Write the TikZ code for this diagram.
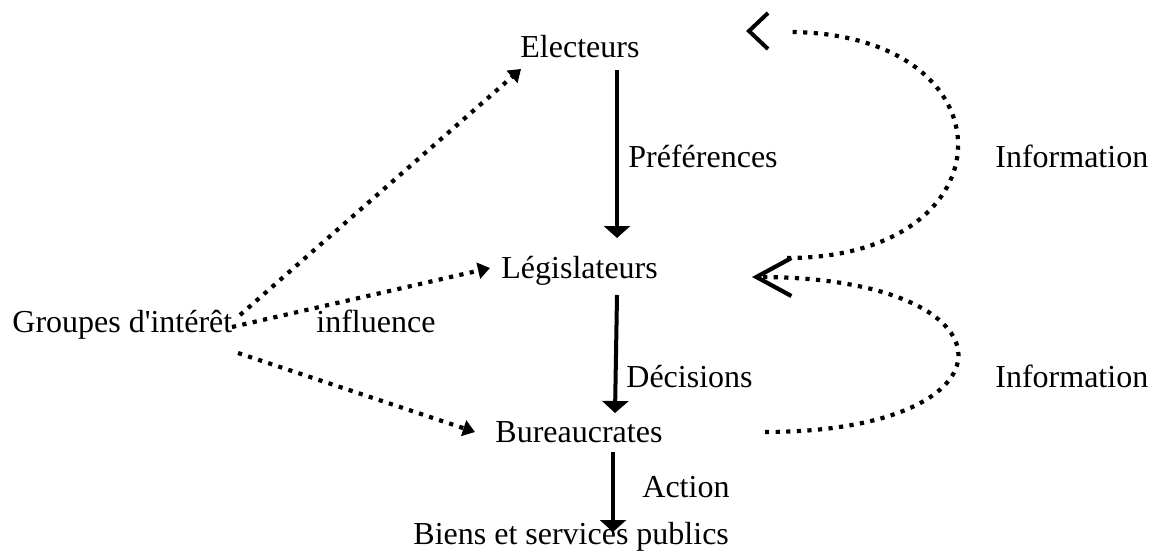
\documentclass[tikz,border=0pt]{standalone}
\usepackage{fontspec}
\setmainfont{Liberation Serif}[Ligatures=TeXOff]
\usetikzlibrary{arrows.meta,calc}
\begin{document}
\begin{tikzpicture}[x=0.5pt,y=-0.5pt,
  lbl/.style={anchor=base west,inner sep=0pt,font=\fontsize{16}{19}\selectfont},
  solidarrow/.style={line width=2pt,-{Triangle[length=6pt,width=13pt]}},
  dotarrow/.style={line width=2.1pt,dash pattern=on 2.1pt off 3.2pt,-{Triangle[length=6pt,width=8pt]}},
  infoline/.style={line width=2.1pt,dash pattern=on 2.1pt off 3.2pt},
  chev/.style={line width=2pt,solid,line join=miter}]
\useasboundingbox (0,0) rectangle (1154,556);
% labels / nodes
\node[lbl] (elect) at (520,58) {Electeurs};
\node[lbl] (pref) at (628,167) {Préférences};
\node[lbl] (info1) at (995,167) {Information};
\node[lbl] (legis) at (501,278) {Législateurs};
\node[lbl] (groupes) at (12,332) {Groupes d'intérêt};
\node[lbl] (infl) at (316,332) {influence};
\node[lbl] (decis) at (626,387) {Décisions};
\node[lbl] (info2) at (995,387) {Information};
\node[lbl] (bureau) at (495,442) {Bureaucrates};
\node[lbl] (action) at (642,497) {Action};
\node[lbl] (biens) at (413,544) {Biens et services publics};
% connector end points
\coordinate (eS) at (617,70);
\coordinate (lN) at (617,238);
\coordinate (lS) at (617,295);
\coordinate (bN) at (615,413);
\coordinate (bS) at (613,452);
\coordinate (pN) at (613,532);
\coordinate (g1) at (240,315);
\coordinate (g2) at (232,327);
\coordinate (g3) at (238,353);
\coordinate (eW) at (521,69);
\coordinate (lW) at (490,268);
\coordinate (bW) at (475,432);
\coordinate (lE1) at (787,258);
\coordinate (topEnd) at (788,32);
\coordinate (tTip) at (749,31);
\coordinate (bE) at (765,432);
\coordinate (lE2) at (752,277);
% solid arrows
\draw[solidarrow] (eS) -- (lN);
\draw[solidarrow] (lS) -- (bN);
\draw[solidarrow] (bS) -- (pN);
% influence arrows
\draw[dotarrow] (g1) -- (eW);
\draw[dotarrow] (g2) -- (lW);
\draw[dotarrow] (g3) -- (bW);
% information arrows
\draw[infoline] (lE1) .. controls (1015,258) and (1015,32) .. (topEnd);
\draw[chev] ($(tTip)+(19,-18)$) -- (tTip) -- ($(tTip)+(19,18)$);
\draw[infoline,-{Straight Barb[length=17.5pt,width=19pt,line cap=butt,line join=miter]}] (bE) .. controls (1024,432) and (1024,277) .. (lE2);
\end{tikzpicture}
\end{document}
